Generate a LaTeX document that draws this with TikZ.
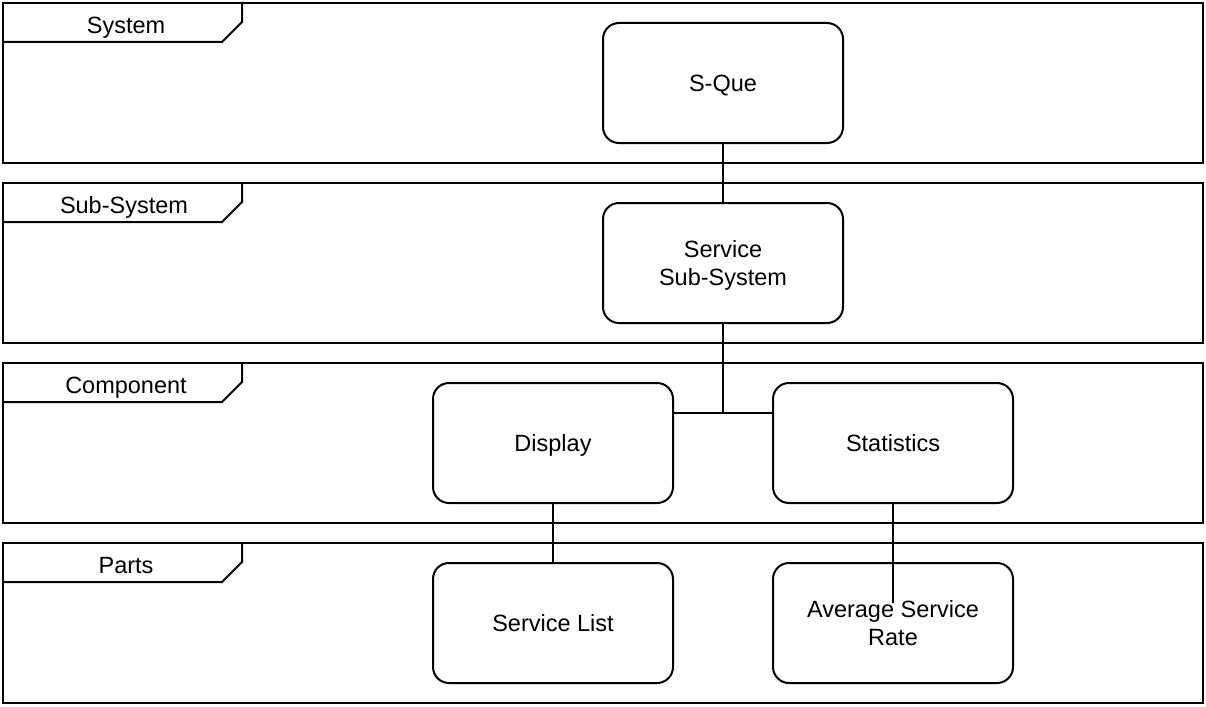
\documentclass[tikz,border=0pt]{standalone}
\usepackage{fontspec}
\setmainfont{Liberation Sans}
\begin{document}
\begin{tikzpicture}[x=1pt,y=-1pt,line width=2pt,
  lbl/.style={font=\fontsize{23.5}{28}\selectfont,text height=17pt,text depth=0pt,inner sep=0pt},
  frm/.style={draw,minimum width=1200pt,minimum height=160pt,inner sep=0pt},
  blk/.style={draw,rounded corners=16pt,minimum width=240pt,minimum height=120pt,align=center,inner sep=0pt,text height=17pt,text depth=0pt,font=\fontsize{23.5}{28}\selectfont},
  two/.style={text height=45pt,text depth=0pt}]
\useasboundingbox (0,0) rectangle (1206,706);
% frames
\node[frm] (fsys) at (603,83) {};
\node[frm] (fsub) at (603,263) {};
\node[frm] (fcomp) at (603,443) {};
\node[frm] (fpart) at (603,623) {};
\foreach \f in {fsys,fsub,fcomp,fpart}{
  \draw (\f.north west) ++(240,0) -- ++(0,20) -- ++(-20,20) -- ++(-220,0);
}
\node[lbl] (tsys) at (126,25) {System};
\node[lbl] (tsub) at (124,205) {Sub-System};
\node[lbl] (tcomp) at (126,385) {Component};
\node[lbl] (tpart) at (126,565) {Parts};
% blocks
\node[blk] (sque) at (723,83) {S-Que};
\node[blk,two] (sub) at (723,263) {Service\\Sub-System};
\node[blk] (disp) at (553,443) {Display};
\node[blk] (stat) at (893,443) {Statistics};
\node[blk] (slist) at (553,623) {Service List};
\node[blk,two] (avg) at (893,623) {Average Service\\Rate};
% connectors
\coordinate (j) at (723,413);
\coordinate (e) at (893,603);
\draw (sque.south) -- (sub.north);
\draw (sub.south) -- (j);
\draw (disp.east |- j) -- (stat.west |- j);
\draw (disp.south) -- (slist.north);
\draw (stat.south) -- (e);
\end{tikzpicture}
\end{document}
